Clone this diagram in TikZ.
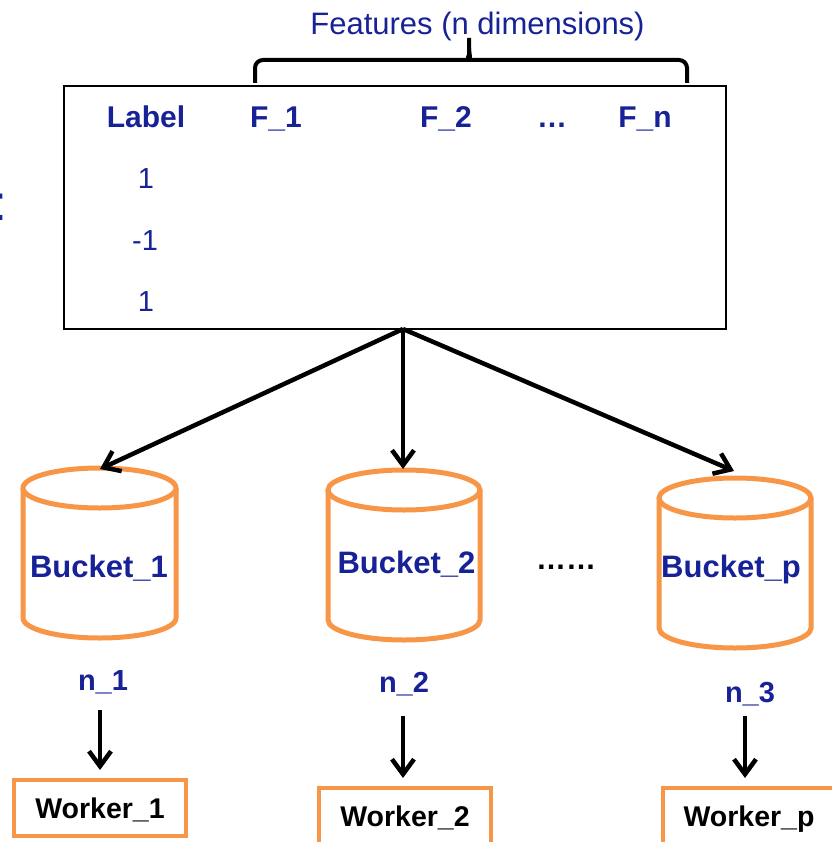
\documentclass[tikz,border=0pt]{standalone}
\usepackage{fontspec}
\setmainfont{Liberation Sans}
\usetikzlibrary{arrows.meta}

\definecolor{inkblue}{RGB}{22,34,150}
\definecolor{bucketorange}{RGB}{247,150,70}

\tikzset{
  hdr/.style={text=inkblue, font=\fontsize{30}{36}\selectfont\bfseries, anchor=base, inner sep=0pt},
  cell/.style={text=inkblue, font=\fontsize{29}{35}\selectfont, anchor=base, inner sep=0pt},
  bucketlbl/.style={text=inkblue, font=\fontsize{31}{37}\selectfont\bfseries, anchor=base, inner sep=0pt},
  countlbl/.style={text=inkblue, font=\fontsize{29}{35}\selectfont\bfseries, anchor=base, inner sep=0pt},
  workerbox/.style={draw=bucketorange, line width=4pt, minimum width=172pt, minimum height=56pt,
    inner sep=0pt, text height=20pt, text depth=0pt, font=\fontsize{28.5}{34}\selectfont\bfseries},
  flow/.style={line width=4.5pt, -{Straight Barb[length=15pt,width=22pt]}},
  bucketline/.style={draw=bucketorange, line width=5pt, fill=white},
  bracket/.style={line width=4pt, rounded corners=8pt},
}

\begin{document}
\begin{tikzpicture}[x=1pt, y=-1pt]
\useasboundingbox (0,0) rectangle (831,842);

% data table
\node[draw, line width=2pt, minimum width=662pt, minimum height=243pt, inner sep=0pt] (tab) at (395,207.5) {};
\coordinate (split) at (403,329);

% header row
\node[hdr] (hlabel) at (146,128) {Label};
\node[hdr] (hf1) at (276,128) {F\_1};
\node[hdr] (hf2) at (446,128) {F\_2};
\node[hdr] (hdots) at (552,128) {…};
\node[hdr] (hfn) at (645,128) {F\_n};

% label column
\node[cell] (r1) at (146,188.5) {1};
\node[cell] (r2) at (145,250.5) {-1};
\node[cell] (r3) at (146,311) {1};

% truncated mark on the left edge
\node[text=inkblue, font=\fontsize{50}{60}\selectfont, anchor=base west, inner sep=0pt] (edge) at (-6.3,220) {:};

% feature bracket and its caption
\node[text=inkblue, font=\fontsize{31}{37}\selectfont, anchor=base, inner sep=0pt] (feat) at (477.5,35) {Features (n dimensions)};
\draw[bracket] (255,83) |- (461,60) to[out=0,in=-90] (469,48) -- (469,38);
\draw[bracket] (687,83) |- (477,60) to[out=180,in=-90] (469,48);

% buckets
\draw[bucketline] (23,488) -- (23,618) arc[start angle=180, end angle=0, x radius=76.5, y radius=20] -- (176,488);
\draw[bucketline] (99.5,488) ellipse [x radius=76.5, y radius=20];
\draw[bucketline] (328,490) -- (328,620) arc[start angle=180, end angle=0, x radius=76, y radius=20] -- (480,490);
\draw[bucketline] (404,490) ellipse [x radius=76, y radius=20];
\draw[bucketline] (659,498) -- (659,628) arc[start angle=180, end angle=0, x radius=76, y radius=20] -- (811,498);
\draw[bucketline] (735,498) ellipse [x radius=76, y radius=20];

\coordinate (b1top) at (100,469);
\coordinate (b2top) at (403,469);
\coordinate (b3top) at (734,471);

\node[bucketlbl] (b1) at (99,577) {Bucket\_1};
\node[bucketlbl] (b2) at (406.5,573) {Bucket\_2};
\node[bucketlbl] (b3) at (731,577) {Bucket\_p};
\node[text=black, font=\fontsize{30}{36}\selectfont\bfseries, anchor=base, inner sep=0pt] (bdots) at (566,569) {……};

% row counts per bucket
\node[countlbl] (n1) at (103,690) {n\_1};
\node[countlbl] (n2) at (404,692) {n\_2};
\node[countlbl] (n3) at (750,702) {n\_3};

% workers
\node[workerbox] (w1) at (100,808) {Worker\_1};
\node[workerbox] (w2) at (405,816) {Worker\_2};
\node[workerbox] (w3) at (749,816) {Worker\_p};
\coordinate (w1in) at (100,778);
\coordinate (w2in) at (403,786);
\coordinate (w3in) at (745,786);
\coordinate (n1out) at (100,700);
\coordinate (n2out) at (403,702);
\coordinate (n3out) at (745,710);

% connectors
\draw[flow] (split) -- (b1top);
\draw[flow] (split) -- (b2top);
\draw[flow] (split) -- (b3top);
\draw[flow, shorten <=10pt, shorten >=8pt] (n1out) -- (w1in);
\draw[flow, shorten <=14pt, shorten >=8pt] (n2out) -- (w2in);
\draw[flow, shorten <=6pt, shorten >=8pt] (n3out) -- (w3in);
\end{tikzpicture}
\end{document}
